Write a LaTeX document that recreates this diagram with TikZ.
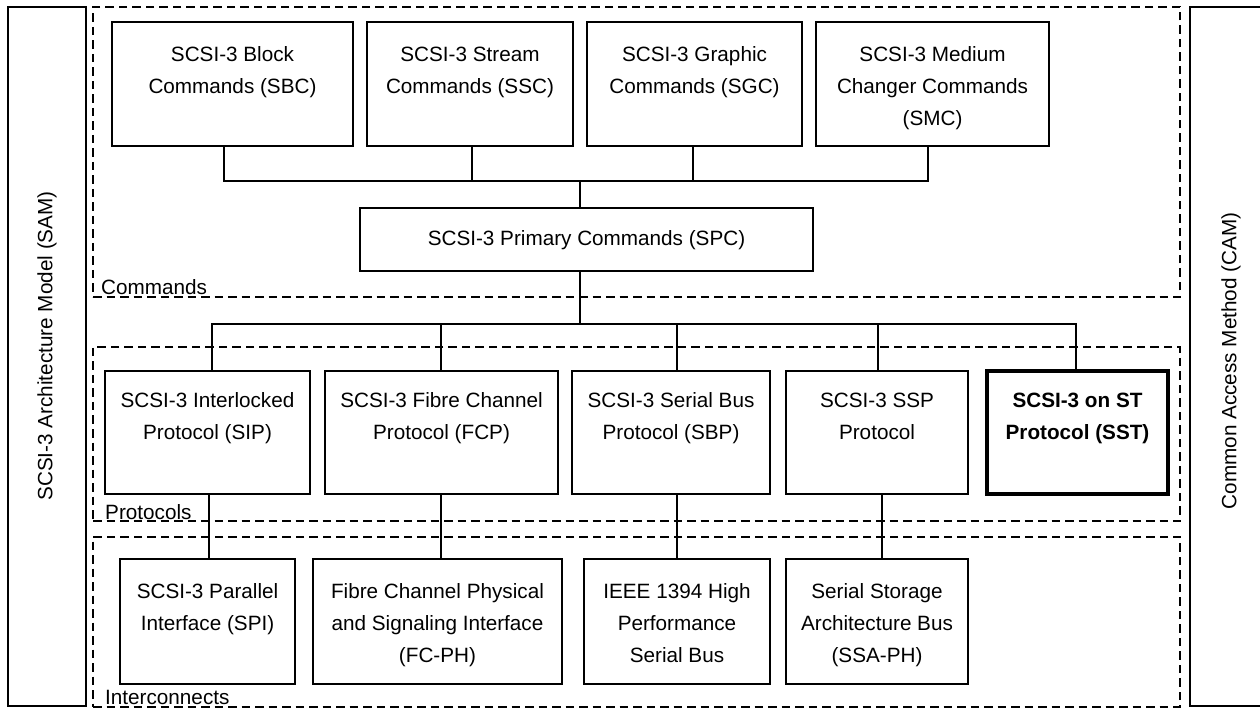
\documentclass[tikz,border=0pt]{standalone}
\usepackage{fontspec}
\setmainfont{Liberation Sans}
\newcommand\dgmfont{\fontsize{20.7pt}{32pt}\selectfont}
\begin{document}
\begin{tikzpicture}[x=1pt,y=-1pt,
  wire/.style={line width=1.3pt},
  grp/.style={draw, dash pattern=on 8.5pt off 5pt, line width=2pt, inner sep=0pt, outer sep=0pt},
  side/.style={draw, line width=1.3pt, inner sep=0pt, outer sep=0pt},
  box/.style={draw, line width=1.3pt, inner sep=0pt, outer sep=0pt, align=center, font=\dgmfont},
  cmdtwo/.style={box, text height=72pt, text depth=52pt},
  cmdthree/.style={box, text height=104pt, text depth=20pt},
  prottwo/.style={box, text height=68pt, text depth=55pt},
  ictwo/.style={box, text height=71pt, text depth=54pt},
  icthree/.style={box, text height=103pt, text depth=22pt},
  grplabel/.style={anchor=base west, inner sep=0pt, font=\dgmfont},
  vlabel/.style={rotate=90, inner sep=0pt, font=\dgmfont}
]
\clip (0,0) rectangle (1260,708);
\fill[white] (0,0) rectangle (1260,708);

% side boxes
\node[side, minimum width=78pt, minimum height=699pt] (sam) at (47,356.5) {};
\node[vlabel] (samlbl) at (47,346) {SCSI-3 Architecture Model (SAM)};
\node[side, minimum width=80pt, minimum height=699pt] (camb) at (1230,356.5) {};
\node[vlabel] (camlbl) at (1231,361) {Common Access Method (CAM)};

% group frames
\node[grp, minimum width=1087pt, minimum height=290pt] (cmdgrp) at (636.5,152) {};
\node[grp, minimum width=1087pt, minimum height=174pt] (protgrp) at (636.5,434) {};
\node[grp, minimum width=1087pt, minimum height=170pt] (icgrp) at (636.5,621.5) {};
\node[grplabel] (cmdlbl) at (101,294.5) {Commands};
\node[grplabel] (protlbl) at (105,519.5) {Protocols};
\node[grplabel] (iclbl) at (105,704.5) {Interconnects};

% command boxes
\node[cmdtwo, minimum width=241pt] (sbc) at (232.5,84) {SCSI-3 Block\\Commands (SBC)};
\node[cmdtwo, minimum width=206pt] (ssc) at (470,84) {SCSI-3 Stream\\Commands (SSC)};
\node[cmdtwo, minimum width=215pt] (sgc) at (694.5,84) {SCSI-3 Graphic\\Commands (SGC)};
\node[cmdthree, minimum width=233pt] (smc) at (932.5,84) {SCSI-3 Medium\\Changer Commands\\(SMC)};
\node[box, minimum width=453pt, text height=38pt, text depth=25pt] (spc) at (586.5,239.5) {SCSI-3 Primary Commands (SPC)};

% protocol boxes
\node[prottwo, minimum width=205pt] (sip) at (207.5,432.5) {SCSI-3 Interlocked\\Protocol (SIP)};
\node[prottwo, minimum width=233pt] (fcp) at (441.5,432.5) {SCSI-3 Fibre Channel\\Protocol (FCP)};
\node[prottwo, minimum width=198pt] (sbp) at (671,432.5) {SCSI-3 Serial Bus\\Protocol (SBP)};
\node[prottwo, minimum width=182pt] (ssp) at (877,432.5) {SCSI-3 SSP\\Protocol};
\node[prottwo, minimum width=181pt, line width=3.2pt, font=\dgmfont\bfseries] (sst) at (1077.5,432.5) {SCSI-3 on ST\\Protocol (SST)};

% interconnect boxes
\node[ictwo, minimum width=175pt] (spi) at (207.5,621.5) {SCSI-3 Parallel\\Interface (SPI)};
\node[icthree, minimum width=249pt] (fcph) at (437.5,621.5) {Fibre Channel Physical\\and Signaling Interface\\(FC-PH)};
\node[icthree, minimum width=186pt] (ieee) at (677,621.5) {IEEE 1394 High\\Performance\\Serial Bus};
\node[icthree, minimum width=182pt] (ssa) at (877,621.5) {Serial Storage\\Architecture Bus\\(SSA-PH)};

% command bus
\coordinate (bus1) at (580,181);
\draw[wire] ([xshift=-8.5pt]sbc.south) |- (bus1);
\draw[wire] ([xshift=-4.5pt]smc.south) |- (bus1);
\draw[wire] ([xshift=2pt]ssc.south) |- (bus1);
\draw[wire] ([xshift=-1.5pt]sgc.south) |- (bus1);
\draw[wire] ([xshift=-6.5pt]spc.north) -- (bus1);

% protocol bus
\coordinate (bus2) at (580,324);
\draw[wire] ([xshift=-6.5pt]spc.south) -- (bus2);
\draw[wire] ([xshift=4.5pt]sip.north) |- (bus2);
\draw[wire] ([xshift=-0.5pt]fcp.north) |- (bus2);
\draw[wire] ([xshift=6pt]sbp.north) |- (bus2);
\draw[wire] ([xshift=1pt]ssp.north) |- (bus2);
\draw[wire] ([xshift=-1.5pt]sst.north) |- (bus2);

% protocol to interconnect
\draw[wire] ([xshift=1.5pt]sip.south) -- ([xshift=1.5pt]sip.south |- spi.north);
\draw[wire] ([xshift=-0.5pt]fcp.south) -- ([xshift=-0.5pt]fcp.south |- fcph.north);
\draw[wire] ([xshift=6pt]sbp.south) -- ([xshift=6pt]sbp.south |- ieee.north);
\draw[wire] ([xshift=5pt]ssp.south) -- ([xshift=5pt]ssp.south |- ssa.north);
\end{tikzpicture}
\end{document}
